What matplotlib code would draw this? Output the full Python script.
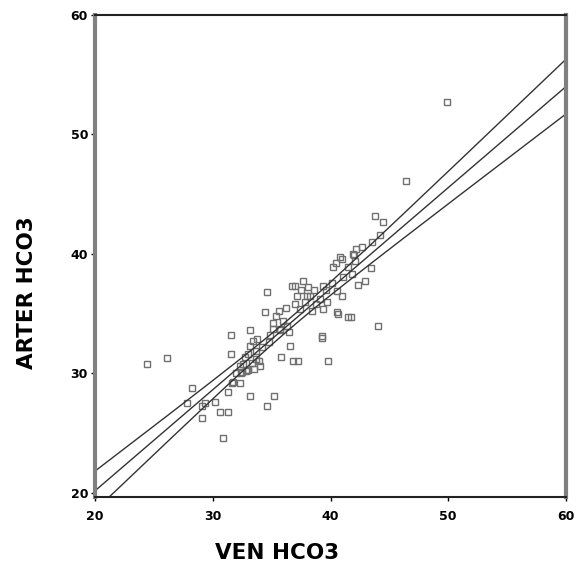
import numpy as np
import matplotlib
matplotlib.use("Agg")
import matplotlib.pyplot as plt

ven_hco3 = [49.9, 46.4, 43.8, 44.5, 42.7, 43.5, 40.8, 40.2, 41.5, 42.1, 43.4, 42.9, 40.6, 41.7, 44.0, 39.3,
            24.4, 26.1, 28.2, 27.8, 29.3, 29.1, 30.6, 31.3, 30.9, 31.3, 31.6, 32.3, 31.55, 31.55, 33.2, 35.2,
            34.6, 34.6, 34.4, 35.6, 33.2, 33.2, 33.8, 32.9, 33.3, 33.7, 34.0, 32.6, 32.3, 31.7, 35.1, 34.9,
            35.7, 35.8, 36.6, 36.8, 37.2, 39.3, 39.8, 37.0, 37.7, 37.15, 38.0, 37.0, 37.4, 38.4, 39.1, 39.7,
            39.4, 40.55, 40.55, 41.5, 41.9, 36.7, 38.3, 35.1, 35.7, 33.4, 33.7, 36.0, 36.3, 38.8, 39.6, 40.1,
            36.5, 34.2, 32.7, 38.6, 37.8, 36.2, 32.0, 33.0, 34.8, 41.0, 42.3, 35.4, 37.5, 38.1,
            42.2, 39.4, 41.8, 41.1, 30.2, 32.8, 33.5, 32.4, 33.9, 29.1,
            41.0, 40.5, 42.0, 44.2, 33.0, 32.5]
arter_hco3 = [52.7, 46.1, 43.2, 42.7, 40.6, 41.0, 39.75, 38.9, 38.9, 39.4, 38.8, 37.7, 35.0, 34.7, 34.0, 33.1,
              30.8, 31.25, 28.75, 27.5, 27.5, 26.3, 26.75, 26.75, 24.6, 28.4, 29.2, 29.2, 33.2, 31.6, 28.1, 28.1,
              27.25, 36.8, 35.1, 35.2, 33.6, 32.3, 32.9, 30.3, 30.9, 31.2, 30.6, 30.8, 30.6, 29.3, 33.75, 33.2,
              33.75, 31.4, 32.3, 31.0, 31.0, 33.0, 31.0, 37.3, 37.75, 36.5, 36.5, 35.8, 35.4, 35.25, 36.25, 36.0,
              35.4, 36.9, 35.1, 34.75, 40.0, 37.3, 36.5, 34.2, 33.6, 32.7, 31.9, 34.4, 34.0, 35.8, 37.0, 37.6,
              33.5, 32.2, 31.4, 37.0, 36.0, 35.5, 30.0, 31.6, 32.6, 36.5, 37.4, 34.8, 37.0, 37.2,
              40.4, 37.3, 38.3, 38.1, 27.6, 30.2, 30.4, 30.0, 31.0, 27.25,
              39.6, 39.2, 39.9, 41.6, 30.3, 30.1]
x_ticks = [20, 30, 40, 50, 60]
y_ticks = [20, 30, 40, 50, 60]

x = np.array(ven_hco3)
y = np.array(arter_hco3)
n = len(x)
slope, intercept = np.polyfit(x, y, 1)
resid = y - (intercept + slope * x)
s = np.sqrt(np.sum(resid ** 2) / (n - 2))
xm = x.mean()
sxx = np.sum((x - xm) ** 2)
t = 1.984
xs = np.linspace(20, 60, 200)
fit = intercept + slope * xs
hw = t * s * np.sqrt(1.0 / n + (xs - xm) ** 2 / sxx)

fig = plt.figure(figsize=(5.8, 5.68), dpi=100)
ax = fig.add_axes([95 / 580, 1 - 497 / 568, (566 - 95) / 580, (497 - 15) / 568])
ax.plot(x, y, linestyle='none', marker='s', ms=4.5, mfc='none', mec='#707070', mew=1.0)
for yy in (fit, fit + hw, fit - hw):
    ax.plot(xs, yy, color='#333333', lw=1.0)
ax.set_xlim(20, 60)
ax.set_ylim(19.65, 60)
ax.set_xticks(x_ticks)
ax.set_yticks(y_ticks)
ax.tick_params(direction='out', length=3, width=1, labelsize=9, pad=2)
ax.tick_params(axis='x', pad=6)
for lab in ax.get_xticklabels() + ax.get_yticklabels():
    lab.set_fontweight('bold')
for side in ('left', 'right'):
    ax.spines[side].set_color('#808080')
    ax.spines[side].set_linewidth(3)
for side in ('top', 'bottom'):
    ax.spines[side].set_color('#222222')
    ax.spines[side].set_linewidth(1.5)

fig.text(277 / 580, 1 - 553 / 568, 'VEN HCO3', ha='center', va='center', fontsize=15.5, fontweight='bold')
fig.text(27 / 580, 1 - 293 / 568, 'ARTER HCO3', ha='center', va='center', rotation=90, fontsize=15.5, fontweight='bold')

fig.savefig('out.png', dpi=100)
